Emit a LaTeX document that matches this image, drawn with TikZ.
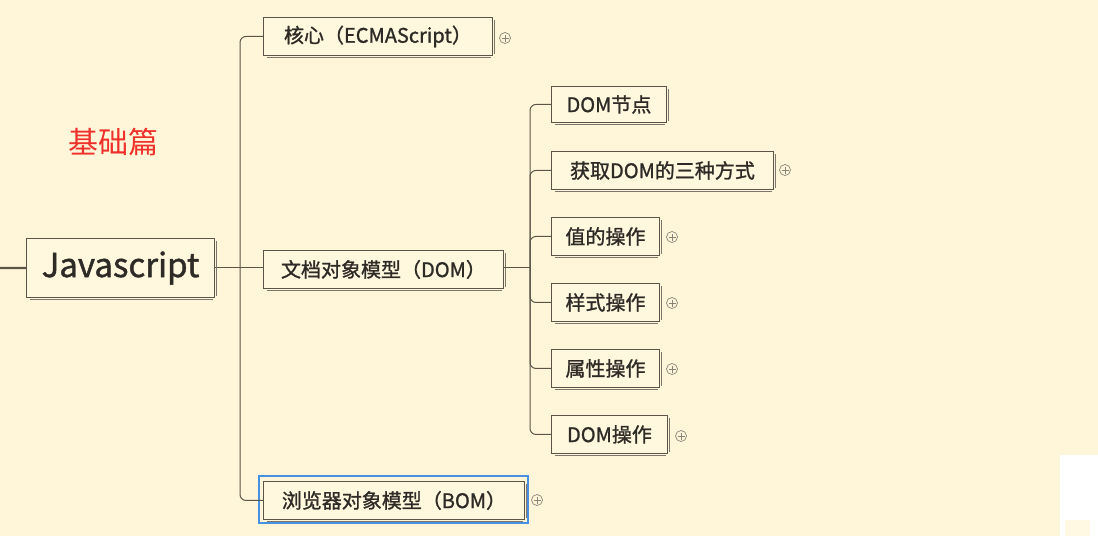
\documentclass[tikz,border=0pt]{standalone}
\usepackage{fontspec}
\setmainfont{Noto Sans CJK SC}
\newfontfamily\cjk[FakeBold=1.2]{Noto Sans CJK SC}
\newfontfamily\cjkplain{Noto Sans CJK SC}
\begin{document}
\begin{tikzpicture}[x=1pt,y=-1pt,
  every node/.style={font=\cjk},
  topic/.style={draw=linec, line width=0.9pt, fill=boxfill, text=textc, inner sep=0pt, anchor=north west, font=\cjk\fontsize{20}{20}\selectfont},
  conn/.style={draw=linec, line width=1pt, rounded corners=6pt},
  plusmark/.style={draw=plusc, circle, minimum size=11pt, inner sep=0pt, line width=0.7pt,
     path picture={\draw[plusc, line width=0.7pt] ([xshift=-3.5pt]path picture bounding box.center) -- ([xshift=3.5pt]path picture bounding box.center);
                   \draw[plusc, line width=0.7pt] ([yshift=-3.5pt]path picture bounding box.center) -- ([yshift=3.5pt]path picture bounding box.center);}}
]
\definecolor{bg}{HTML}{FFF6D9}
\definecolor{boxfill}{HTML}{FFF8DE}
\definecolor{linec}{HTML}{5C5447}
\definecolor{textc}{HTML}{2E2A26}
\definecolor{plusc}{HTML}{8A8378}
\definecolor{sel}{HTML}{4A90E2}
\definecolor{redt}{HTML}{F0302A}
\useasboundingbox (0,0) rectangle (1098,536);
\fill[bg] (0,0) rectangle (1098,536);

% right-bottom white panel
\fill[white] (1060,455) rectangle (1098,536);
\fill[bg!70!white] (1065,520) rectangle (1090,536);

% title label
\node[text=redt, font=\cjkplain\fontsize{30}{30}\selectfont] (title) at (113,142) {基础篇};

% root
\node[topic, minimum width=188pt, minimum height=59pt, line width=1.1pt, font=\cjk\fontsize{33}{33}\selectfont] (root) at (26,238) {Javascript};
\coordinate (rootin) at (0,268);
\draw[linec, line width=2.2pt] (rootin) -- (root.west);

% level 1
\node[topic, minimum width=229pt, minimum height=38pt] (core) at (263,17) {核心（ECMAScript）};
\node[topic, minimum width=240pt, minimum height=38pt] (dom) at (263,250) {文档对象模型（DOM）};
\draw[sel, line width=2pt] (259,476) rectangle (528,523);
\node[topic, minimum width=261pt, minimum height=38pt] (bom) at (263,481) {浏览器对象模型（BOM）};

\coordinate (t1) at (240,267);
\draw[conn] (root.east |- t1) -- (dom.west |- t1);
\draw[conn] (core.west) -| (t1);
\draw[conn] (bom.west) -| (t1);

\node[plusmark] (p1) at (505,38) {};
\node[plusmark] (p3) at (537,500) {};

% level 2
\node[topic, minimum width=115pt, minimum height=36pt] (n1) at (551,86) {DOM节点};
\node[topic, minimum width=222pt, minimum height=38pt] (n2) at (551,151) {获取DOM的三种方式};
\node[topic, minimum width=108pt, minimum height=38pt] (n3) at (551,217) {值的操作};
\node[topic, minimum width=108pt, minimum height=38pt] (n4) at (551,283) {样式操作};
\node[topic, minimum width=108pt, minimum height=38pt] (n5) at (551,349) {属性操作};
\node[topic, minimum width=116pt, minimum height=38pt] (n6) at (551,415) {DOM操作};

% sketchy second strokes
\foreach \n in {root,core,dom,bom,n1,n2,n3,n4,n5,n6}{
  \draw[linec!80, line width=0.6pt] ([xshift=4pt,yshift=-1.5pt]\n.south west) -- ([xshift=-2pt,yshift=-1.5pt]\n.south east);
  \draw[linec!80, line width=0.6pt] ([xshift=1.5pt,yshift=-3pt]\n.north east) -- ([xshift=1.5pt,yshift=2pt]\n.south east);
}

\coordinate (t2) at (530,267);
\draw[conn] (dom.east |- t2) -- (t2);
\draw[conn] (n1.west) -| (t2);
\draw[conn] (n2.west) -| (t2);
\draw[conn] (n3.west) -| (t2);
\draw[conn] (n4.west) -| (t2);
\draw[conn] (n5.west) -| (t2);
\draw[conn] (n6.west) -| (t2);

\node[plusmark] (q2) at (785,170) {};
\node[plusmark] (q3) at (672,237) {};
\node[plusmark] (q4) at (672,303) {};
\node[plusmark] (q5) at (672,369) {};
\node[plusmark] (q6) at (681,436) {};
\end{tikzpicture}
\end{document}
